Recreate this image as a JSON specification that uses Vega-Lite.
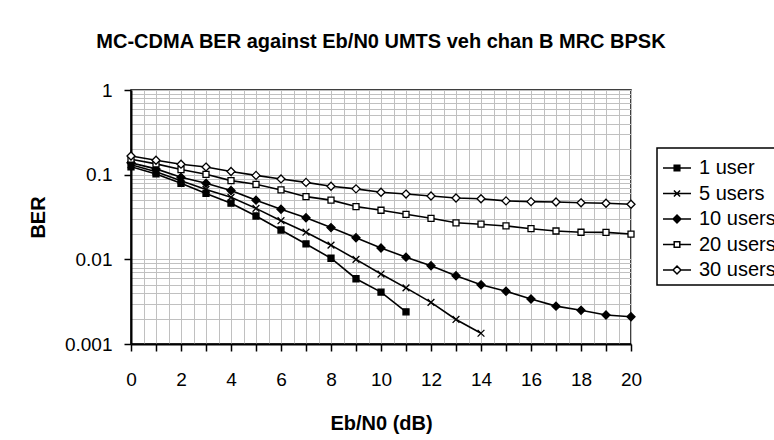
{
  "$schema": "https://vega.github.io/schema/vega-lite/v6.json",
  "autosize": "none",
  "width": 500,
  "height": 254,
  "padding": {"left": 131, "top": 90, "right": 143, "bottom": 96},
  "background": "white",
  "config": {
    "view": {"stroke": "black", "strokeWidth": 1.5},
    "axis": {"labelFont": "Liberation Sans", "titleFont": "Liberation Sans", "labelColor": "black", "titleColor": "black", "labelFontSize": 19, "titleFontSize": 20, "titleFontWeight": "bold"},
    "legend": {"labelFont": "Liberation Sans", "labelFontSize": 20, "labelColor": "black", "strokeWidth": 1.5}
  },
  "title": {"text": "MC-CDMA BER against Eb/N0 UMTS veh chan B MRC BPSK", "font": "Liberation Sans", "fontSize": 20, "fontWeight": "bold", "color": "black", "anchor": "middle", "offset": 29},
  "data": {"values": [
    {"x": 0, "users": "1 user", "ber": 0.124}, {"x": 1, "users": "1 user", "ber": 0.102}, {"x": 2, "users": "1 user", "ber": 0.079}, {"x": 3, "users": "1 user", "ber": 0.060}, {"x": 4, "users": "1 user", "ber": 0.046}, {"x": 5, "users": "1 user", "ber": 0.0325}, {"x": 6, "users": "1 user", "ber": 0.0222}, {"x": 7, "users": "1 user", "ber": 0.0152}, {"x": 8, "users": "1 user", "ber": 0.0103}, {"x": 9, "users": "1 user", "ber": 0.0059}, {"x": 10, "users": "1 user", "ber": 0.0041}, {"x": 11, "users": "1 user", "ber": 0.0024},
    {"x": 0, "users": "5 users", "ber": 0.131}, {"x": 1, "users": "5 users", "ber": 0.108}, {"x": 2, "users": "5 users", "ber": 0.085}, {"x": 3, "users": "5 users", "ber": 0.067}, {"x": 4, "users": "5 users", "ber": 0.054}, {"x": 5, "users": "5 users", "ber": 0.040}, {"x": 6, "users": "5 users", "ber": 0.0286}, {"x": 7, "users": "5 users", "ber": 0.0209}, {"x": 8, "users": "5 users", "ber": 0.0147}, {"x": 9, "users": "5 users", "ber": 0.0100}, {"x": 10, "users": "5 users", "ber": 0.0067}, {"x": 11, "users": "5 users", "ber": 0.0046}, {"x": 12, "users": "5 users", "ber": 0.0031}, {"x": 13, "users": "5 users", "ber": 0.00195}, {"x": 14, "users": "5 users", "ber": 0.00134},
    {"x": 0, "users": "10 users", "ber": 0.138}, {"x": 1, "users": "10 users", "ber": 0.117}, {"x": 2, "users": "10 users", "ber": 0.093}, {"x": 3, "users": "10 users", "ber": 0.079}, {"x": 4, "users": "10 users", "ber": 0.065}, {"x": 5, "users": "10 users", "ber": 0.050}, {"x": 6, "users": "10 users", "ber": 0.039}, {"x": 7, "users": "10 users", "ber": 0.031}, {"x": 8, "users": "10 users", "ber": 0.0237}, {"x": 9, "users": "10 users", "ber": 0.018}, {"x": 10, "users": "10 users", "ber": 0.0136}, {"x": 11, "users": "10 users", "ber": 0.0106}, {"x": 12, "users": "10 users", "ber": 0.0084}, {"x": 13, "users": "10 users", "ber": 0.0064}, {"x": 14, "users": "10 users", "ber": 0.0050}, {"x": 15, "users": "10 users", "ber": 0.0042}, {"x": 16, "users": "10 users", "ber": 0.0034}, {"x": 17, "users": "10 users", "ber": 0.0028}, {"x": 18, "users": "10 users", "ber": 0.0025}, {"x": 19, "users": "10 users", "ber": 0.0022}, {"x": 20, "users": "10 users", "ber": 0.0021},
    {"x": 0, "users": "20 users", "ber": 0.152}, {"x": 1, "users": "20 users", "ber": 0.134}, {"x": 2, "users": "20 users", "ber": 0.115}, {"x": 3, "users": "20 users", "ber": 0.101}, {"x": 4, "users": "20 users", "ber": 0.085}, {"x": 5, "users": "20 users", "ber": 0.077}, {"x": 6, "users": "20 users", "ber": 0.066}, {"x": 7, "users": "20 users", "ber": 0.055}, {"x": 8, "users": "20 users", "ber": 0.050}, {"x": 9, "users": "20 users", "ber": 0.042}, {"x": 10, "users": "20 users", "ber": 0.038}, {"x": 11, "users": "20 users", "ber": 0.034}, {"x": 12, "users": "20 users", "ber": 0.0305}, {"x": 13, "users": "20 users", "ber": 0.027}, {"x": 14, "users": "20 users", "ber": 0.026}, {"x": 15, "users": "20 users", "ber": 0.0248}, {"x": 16, "users": "20 users", "ber": 0.023}, {"x": 17, "users": "20 users", "ber": 0.0216}, {"x": 18, "users": "20 users", "ber": 0.0209}, {"x": 19, "users": "20 users", "ber": 0.0208}, {"x": 20, "users": "20 users", "ber": 0.0199},
    {"x": 0, "users": "30 users", "ber": 0.166}, {"x": 1, "users": "30 users", "ber": 0.148}, {"x": 2, "users": "30 users", "ber": 0.133}, {"x": 3, "users": "30 users", "ber": 0.123}, {"x": 4, "users": "30 users", "ber": 0.109}, {"x": 5, "users": "30 users", "ber": 0.098}, {"x": 6, "users": "30 users", "ber": 0.089}, {"x": 7, "users": "30 users", "ber": 0.081}, {"x": 8, "users": "30 users", "ber": 0.073}, {"x": 9, "users": "30 users", "ber": 0.068}, {"x": 10, "users": "30 users", "ber": 0.062}, {"x": 11, "users": "30 users", "ber": 0.059}, {"x": 12, "users": "30 users", "ber": 0.056}, {"x": 13, "users": "30 users", "ber": 0.053}, {"x": 14, "users": "30 users", "ber": 0.052}, {"x": 15, "users": "30 users", "ber": 0.049}, {"x": 16, "users": "30 users", "ber": 0.048}, {"x": 17, "users": "30 users", "ber": 0.0475}, {"x": 18, "users": "30 users", "ber": 0.0465}, {"x": 19, "users": "30 users", "ber": 0.046}, {"x": 20, "users": "30 users", "ber": 0.0447}
  ]},
  "encoding": {
    "x": {"field": "x", "type": "quantitative", "scale": {"domain": [0, 20], "nice": false, "zero": false},
      "axis": {"title": "Eb/N0 (dB)", "values": [0,0.5,1,1.5,2,2.5,3,3.5,4,4.5,5,5.5,6,6.5,7,7.5,8,8.5,9,9.5,10,10.5,11,11.5,12,12.5,13,13.5,14,14.5,15,15.5,16,16.5,17,17.5,18,18.5,19,19.5,20],
        "labelExpr": "datum.value % 2 === 0 ? format(datum.value, 'd') : ''",
        "tickOpacity": {"condition": {"test": "datum.value % 1 === 0", "value": 1}, "value": 0},
        "grid": true, "gridColor": "#c0c0c0", "gridWidth": 1, "domainColor": "black", "domainWidth": 2, "tickColor": "black", "tickWidth": 1.5, "tickSize": 7,
        "labelPadding": 19, "labelOverlap": false, "labelFlush": false, "titlePadding": 24}},
    "y": {"field": "ber", "type": "quantitative", "scale": {"type": "log", "domain": [0.001, 1], "nice": false},
      "axis": {"title": "BER", "values": [0.001,0.002,0.003,0.004,0.005,0.006,0.007,0.008,0.009,0.01,0.02,0.03,0.04,0.05,0.06,0.07,0.08,0.09,0.1,0.2,0.3,0.4,0.5,0.6,0.7,0.8,0.9,1],
        "labelExpr": "abs(datum.value - 1) < 1e-9 ? '1' : abs(datum.value - 0.1) < 1e-9 ? '0.1' : abs(datum.value - 0.01) < 1e-9 ? '0.01' : abs(datum.value - 0.001) < 1e-9 ? '0.001' : ''",
        "tickOpacity": {"condition": {"test": "abs(datum.value - 1) < 1e-9 || abs(datum.value - 0.1) < 1e-9 || abs(datum.value - 0.01) < 1e-9 || abs(datum.value - 0.001) < 1e-9", "value": 1}, "value": 0},
        "grid": true, "gridColor": "#c0c0c0", "gridWidth": 1, "domainColor": "black", "domainWidth": 2, "tickColor": "black", "tickWidth": 1.5, "tickSize": 7,
        "labelPadding": 12, "labelOverlap": false, "labelFlush": false, "labelBaseline": "middle", "titlePadding": 16}}
  },
  "layer": [
    {"mark": {"type": "line", "stroke": "black", "strokeWidth": 1.6, "clip": true},
     "encoding": {"detail": {"field": "users"}}},
    {"mark": {"type": "point", "stroke": "black", "strokeWidth": 1.3, "size": 64, "opacity": 1},
     "encoding": {
       "shape": {"field": "users", "legend": null, "scale": {"domain": ["1 user", "5 users", "10 users", "20 users", "30 users"], "range": ["M-0.75,-0.75H0.75V0.75H-0.75Z", "M-0.85,-0.85L0.85,0.85M-0.85,0.85L0.85,-0.85", "M0,-1L1,0L0,1L-1,0Z", "M-0.75,-0.75H0.75V0.75H-0.75Z", "M0,-1L1,0L0,1L-1,0Z"]}},
       "fill": {"field": "users", "legend": null, "scale": {"domain": ["1 user", "5 users", "10 users", "20 users", "30 users"], "range": ["black", "white", "black", "white", "white"]}}
     }},
    {"transform": [{"filter": "datum.x < 0"}],
     "mark": {"type": "point", "strokeWidth": 1.5, "size": 784, "opacity": 1},
     "encoding": {
       "stroke": {"field": "users", "scale": {"domain": ["1 user", "5 users", "10 users", "20 users", "30 users"], "range": ["black", "black", "black", "black", "black"]},
         "legend": {"title": null, "orient": "none", "legendX": 526, "legendY": 58, "strokeColor": "black", "padding": 5, "rowPadding": 0.5, "labelOffset": 7, "symbolSize": 784, "symbolStrokeWidth": 1.5, "symbolOpacity": 1, "fillColor": "white"}},
       "shape": {"field": "users", "scale": {"domain": ["1 user", "5 users", "10 users", "20 users", "30 users"], "range": ["M-1,0H-0.2M0.2,0H1M-0.2,-0.2H0.2V0.2H-0.2Z", "M-1,0H1M-0.22,-0.22L0.22,0.22M-0.22,0.22L0.22,-0.22", "M-1,0H-0.28M0.28,0H1M0,-0.28L0.28,0L0,0.28L-0.28,0Z", "M-1,0H-0.2M0.2,0H1M-0.2,-0.2H0.2V0.2H-0.2Z", "M-1,0H-0.28M0.28,0H1M0,-0.28L0.28,0L0,0.28L-0.28,0Z"]},
         "legend": {"title": null, "orient": "none", "legendX": 526, "legendY": 58, "strokeColor": "black", "padding": 5, "rowPadding": 0.5, "labelOffset": 7, "symbolSize": 784, "symbolStrokeWidth": 1.5, "symbolOpacity": 1, "fillColor": "white"}},
       "fill": {"field": "users", "scale": {"domain": ["1 user", "5 users", "10 users", "20 users", "30 users"], "range": ["black", "white", "black", "white", "white"]},
         "legend": {"title": null, "orient": "none", "legendX": 526, "legendY": 58, "strokeColor": "black", "padding": 5, "rowPadding": 0.5, "labelOffset": 7, "symbolSize": 784, "symbolStrokeWidth": 1.5, "symbolOpacity": 1, "fillColor": "white"}}
     }}
  ],
  "resolve": {"scale": {"shape": "independent", "fill": "independent", "stroke": "independent"}}
}
